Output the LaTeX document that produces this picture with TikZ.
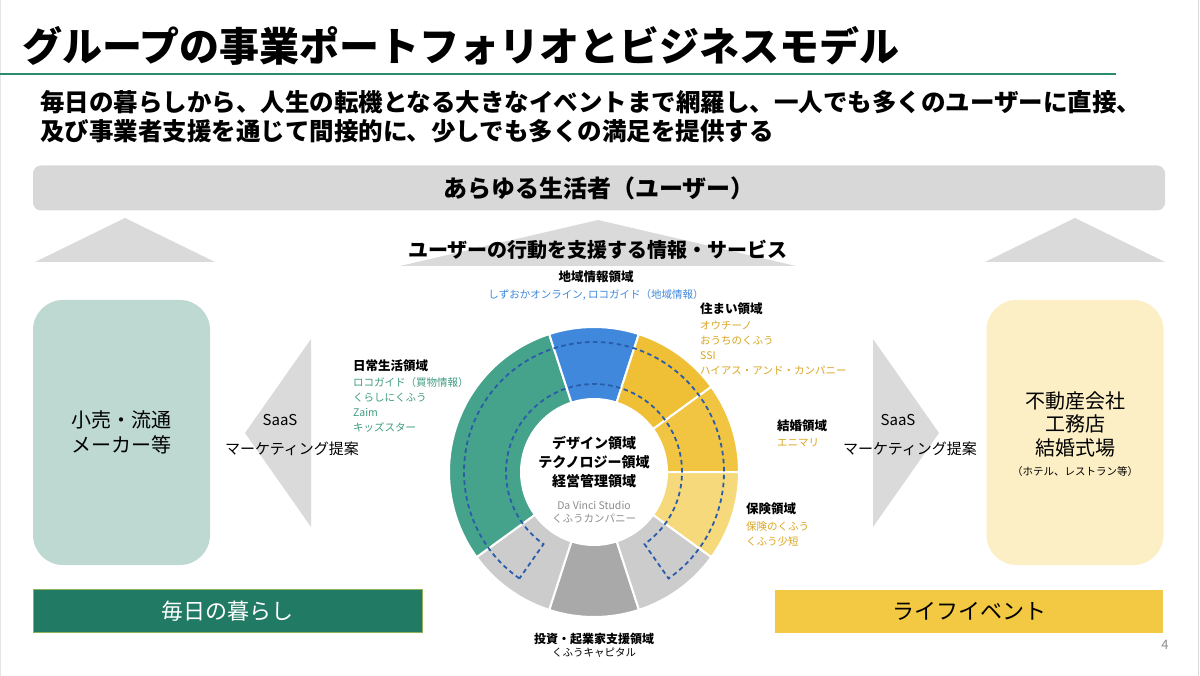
\documentclass[tikz,border=0pt]{standalone}
\usepackage{fontspec}
\setmainfont{Noto Sans CJK JP}
\definecolor{lineGreen}{HTML}{2C8A6F}
\definecolor{barGray}{HTML}{D9D8D8}
\definecolor{triGray}{HTML}{DADADA}
\definecolor{retailFill}{HTML}{BDD9D1}
\definecolor{realtyFill}{HTML}{FCEFC5}
\definecolor{dailyFill}{HTML}{217A63}
\definecolor{dailyEdge}{HTML}{8DB35A}
\definecolor{eventFill}{HTML}{F3C843}
\definecolor{segGreen}{HTML}{45A38B}
\definecolor{segBlue}{HTML}{3F88DC}
\definecolor{segYelA}{HTML}{EFBF36}
\definecolor{segYelB}{HTML}{F1C541}
\definecolor{segYelC}{HTML}{F5D97B}
\definecolor{segGrayA}{HTML}{CCCCCC}
\definecolor{segGrayB}{HTML}{A9A9A9}
\definecolor{dashBlue}{HTML}{2A5CAA}
\definecolor{txtBlue}{HTML}{3F88DC}
\definecolor{txtGold}{HTML}{D9A521}
\definecolor{txtGreen}{HTML}{3E9B80}
\definecolor{txtGray}{HTML}{8C8C8C}

\begin{document}
\begin{tikzpicture}[x=1pt,y=1pt,
    head/.style={font=\bfseries\fontsize{12.5}{15}\selectfont, inner sep=0pt},
    item/.style={font=\fontsize{10.5}{13}\selectfont, inner sep=0pt},
    saas/.style={font=\fontsize{15}{18}\selectfont, inner sep=0pt},
    sidebox/.style={rounded corners=30pt, minimum width=177pt, minimum height=265pt,
        align=center, inner sep=0pt},
    bottombar/.style={minimum width=389pt, minimum height=43pt, inner sep=0pt,
        font=\fontsize{22}{26}\selectfont}]
    \useasboundingbox (0,0) rectangle (1200,-676);
    \draw[black!15, line width=1pt] (1198,0) -- (1198,-676);
    \draw[black!10, line width=1pt] (0.5,0) -- (0.5,-676);

    \node[anchor=west, inner sep=0pt, font=\bfseries\fontsize{40}{48}\selectfont]
        (title) at (22,-46) {グループの事業ポートフォリオとビジネスモデル};
    \draw[lineGreen, line width=2.5pt] (0,-74) -- (1116,-74);

    \node[anchor=west, inner sep=0pt, font=\bfseries\fontsize{24.5}{30}\selectfont]
        (lead1) at (40,-102) {毎日の暮らしから、人生の転機となる大きなイベントまで網羅し、一人でも多くのユーザーに直接、};
    \node[anchor=west, inner sep=0pt, font=\bfseries\fontsize{24.5}{30}\selectfont]
        (lead2) at (40,-131) {及び事業者支援を通じて間接的に、少しでも多くの満足を提供する};

    \node[fill=barGray, rounded corners=8pt, minimum width=1132pt, minimum height=45pt,
        font=\bfseries\fontsize{24}{28}\selectfont] (users) at (599,-188) {あらゆる生活者（ユーザー）};

    \fill[triGray] (35,-262) -- (125,-218) -- (215,-262) -- cycle;
    \fill[triGray] (985,-262) -- (1075,-218) -- (1165,-262) -- cycle;
    \fill[triGray] (400,-266) -- (598,-220) -- (796,-266) -- cycle;
    \node[inner sep=0pt, font=\bfseries\fontsize{20}{24}\selectfont]
        (support) at (598,-250) {ユーザーの行動を支援する情報・サービス};

    \node[sidebox, fill=retailFill, font=\fontsize{20}{25}\selectfont]
        (retail) at (121.5,-432.5) {小売・流通\\メーカー等};
    \node[sidebox, fill=realtyFill] (realty) at (1075,-432.5) {};
    \node[align=center, inner sep=0pt, font=\fontsize{20}{23.5}\selectfont]
        (realtyTxt) at (1075,-434) {不動産会社\\工務店\\結婚式場\\[-3pt]{\fontsize{10.5}{12}\selectfont （ホテル、レストラン等）}};

    \fill[triGray] (245,-433) -- (311,-339) -- (311,-527) -- cycle;
    \fill[triGray] (873,-339) -- (939,-433) -- (873,-527) -- cycle;
    \node[saas] (saasL) at (280,-420) {SaaS};
    \node[saas] (mktL) at (292,-449) {マーケティング提案};
    \node[saas] (saasR) at (898,-420) {SaaS};
    \node[saas] (mktR) at (910,-449) {マーケティング提案};

    \node[bottombar, fill=dailyFill, draw=dailyEdge, line width=0.8pt, text=white]
        (daily) at (227.5,-611) {毎日の暮らし};
    \node[bottombar, fill=eventFill, minimum width=388pt] (event) at (969,-611) {ライフイベント};
    \node[inner sep=0pt, text=txtGray, font=\fontsize{13}{15}\selectfont] (page) at (1165,-645) {4};

    \begin{scope}[shift={(594,-472)}]
        \fill[segGreen, draw=white, line width=2pt] (108:73) arc[start angle=108, end angle=216, radius=73pt]
            -- (216:145) arc[start angle=216, end angle=108, radius=145pt] -- cycle;
        \foreach \a/\c in {72/segBlue, 36/segYelA, 0/segYelB, -36/segYelC, -72/segGrayA, -108/segGrayB, -144/segGrayA}
        {
            \fill[\c, draw=white, line width=2pt] (\a:73) arc[start angle=\a, end angle=\a+36, radius=73pt]
                -- (\a+36:145) arc[start angle=\a+36, end angle=\a, radius=145pt] -- cycle;
        }
        \draw[dashBlue, line width=1.8pt, dash pattern=on 4.5pt off 3.5pt]
            (235:130) arc[start angle=235, end angle=-55, radius=130pt]
            -- (-55:88) arc[start angle=-55, end angle=235, radius=88pt] -- cycle;
    \end{scope}

    \node[inner sep=0pt, font=\bfseries\fontsize{14}{17}\selectfont] (design) at (594,-443) {デザイン領域};
    \node[inner sep=0pt, font=\bfseries\fontsize{14}{17}\selectfont] (tech) at (594,-462) {テクノロジー領域};
    \node[inner sep=0pt, font=\bfseries\fontsize{14}{17}\selectfont] (manage) at (594,-481) {経営管理領域};
    \node[item, text=txtGray] (davinci) at (594,-505) {Da Vinci Studio};
    \node[item, text=txtGray] (kufuco) at (594,-519) {くふうカンパニー};

    \node[head] (area) at (596,-277) {地域情報領域};
    \node[item, text=txtBlue] (areaA) at (596,-295) {しずおかオンライン, ロコガイド（地域情報）};

    \node[head, anchor=west] (home) at (700,-309) {住まい領域};
    \foreach \t [count=\i] in {オウチーノ, おうちのくふう, SSI, ハイアス・アンド・カンパニー}
        \node[item, text=txtGold, anchor=west] (home\i) at (700,{-326-14.7*(\i-1)}) {\t};

    \node[head, anchor=west] (life) at (353,-366) {日常生活領域};
    \foreach \t [count=\i] in {ロコガイド（買物情報）, くらしにくふう, Zaim, キッズスター}
        \node[item, text=txtGreen, anchor=west] (life\i) at (353,{-383-14.7*(\i-1)}) {\t};

    \node[head, anchor=west] (wed) at (777,-426) {結婚領域};
    \node[item, text=txtGold, anchor=west] (wed1) at (777,-443) {エニマリ};

    \node[head, anchor=west] (ins) at (746,-509) {保険領域};
    \foreach \t [count=\i] in {保険のくふう, くふう少短}
        \node[item, text=txtGold, anchor=west] (ins\i) at (746,{-527-14.7*(\i-1)}) {\t};

    \node[head, font=\bfseries\fontsize{12}{14}\selectfont] (invest) at (594,-639) {投資・起業家支援領域};
    \node[item] (invest1) at (594,-653) {くふうキャピタル};
\end{tikzpicture}
\end{document}
